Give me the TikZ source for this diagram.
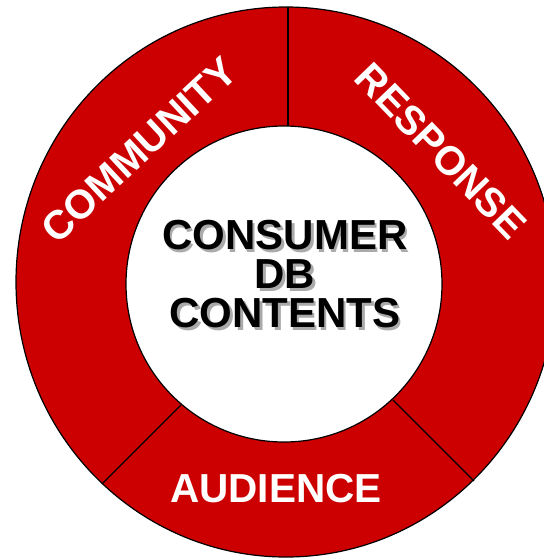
\documentclass[tikz,border=0pt]{standalone}
\usepackage{fontspec}
\setmainfont{Liberation Sans}
\definecolor{ringred}{RGB}{204,0,0}
\definecolor{shadowgrey}{RGB}{170,170,170}
% a line of text with a grey copy set a little to the lower right behind it
\newcommand\dropshadowed[1]{\rlap{\hspace{2.5pt}\raisebox{-2.5pt}{\textcolor{shadowgrey}{#1}}}#1}
\begin{document}
\begin{tikzpicture}[x=1pt,y=-1pt,
  ringlabel/.style={text=white,font=\fontsize{40.5}{40}\selectfont\bfseries,inner sep=0pt},
  hublabel/.style={font=\fontsize{42}{39}\selectfont\bfseries,align=center,inner sep=0pt},
  rim/.style={draw=black,line width=1.2pt},
  divider/.style={draw=black,line width=1.1pt}]
\useasboundingbox (0,0) rectangle (544,558);
\clip (0,0) rectangle (544,558);

% red ring with its black rims
\fill[ringred,even odd rule]
  (286,282) ellipse [x radius=270pt,y radius=275pt]
  (284,284) circle [radius=158pt];
\draw[rim] (286,282) ellipse [x radius=270pt,y radius=275pt];
\draw[rim,fill=white] (284,284) circle [radius=158pt];

% ends of the three dividers
\coordinate (topout) at (288,7);
\coordinate (topin)  at (288,126);
\coordinate (leftin)  at (181,405);
\coordinate (leftout) at (102,484);
\coordinate (rightin)  at (393,400);
\coordinate (rightout) at (474,481);
\draw[divider] (topin) -- (topout);
\draw[divider] (leftin) -- (leftout);
\draw[divider] (rightin) -- (rightout);

% segment labels
\node[ringlabel,rotate=43] (community) at (139,150) {COMMUNITY};
\node[ringlabel,rotate=-46] (response) at (441,151) {RESPONSE};
\node[ringlabel] (audience) at (276,489) {AUDIENCE};

% hub title
\node[hublabel] (hub) at (285,275.5)
  {\dropshadowed{CONSUMER}\\\dropshadowed{DB}\\\dropshadowed{CONTENTS}};
\end{tikzpicture}
\end{document}
